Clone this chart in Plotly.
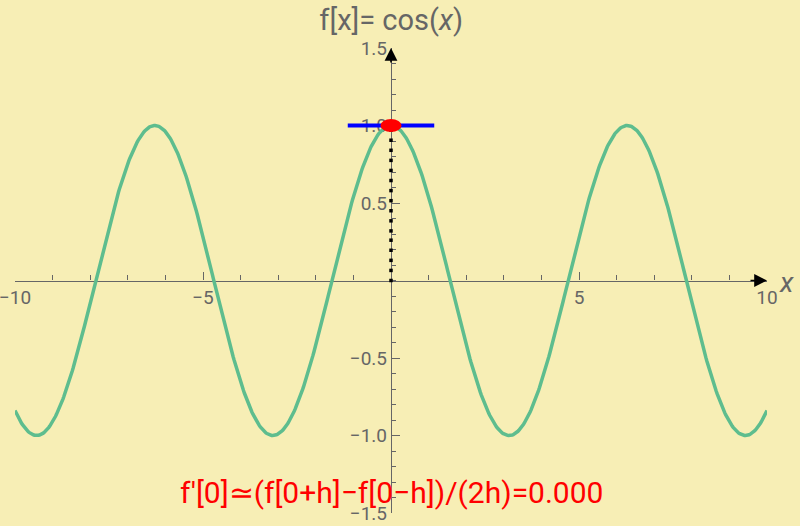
import numpy as np
import plotly.graph_objects as go

# -------------------------------
# Data
# -------------------------------
x_min, x_max = -10, 10
y_min, y_max = -1.5, 1.5
x_curve = np.linspace(x_min, x_max, 801)
y_curve = np.cos(x_curve)  # f[x] = cos(x)

x0 = 0.0
h = 1.15
tangent_x = [x0 - h, x0 + h]
tangent_y = [1.0, 1.0]
slope_text = "0.000"

# little black points along x = 0
dots_y = [0.0, 0.065, 0.13, 0.195, 0.26, 0.32, 0.385, 0.45, 0.515, 0.58,
          0.645, 0.71, 0.775, 0.84, 0.905, 0.97]

x_major = [-10, -5, 5, 10]
x_minor = list(range(-10, 11))
y_major = [-1.5, -1.0, -0.5, 0.5, 1.0, 1.5]
y_minor = [round(-1.5 + 0.1 * i, 1) for i in range(31)]

BG = "#F7EEB5"
GREY = "#666666"
FONT = "Roboto"

fig = go.Figure()

fig.add_trace(go.Scatter(x=x_curve, y=y_curve, mode="lines",
                         line=dict(color="#5EBD8E", width=3.5), hoverinfo="skip"))
fig.add_trace(go.Scatter(x=[x0] * len(dots_y), y=dots_y, mode="markers",
                         marker=dict(color="black", size=3.5, symbol="square"), hoverinfo="skip"))
fig.add_trace(go.Scatter(x=tangent_x, y=tangent_y, mode="lines",
                         line=dict(color="#0000FF", width=4), hoverinfo="skip"))

# red point at (x0, f(x0)), elliptical like the original
rx, ry = 0.28, 0.042
fig.add_shape(type="circle", xref="x", yref="y",
              x0=x0 - rx, x1=x0 + rx, y0=np.cos(x0) - ry, y1=np.cos(x0) + ry,
              fillcolor="#FF0000", line=dict(color="#FF0000", width=0))

# axis arrows
fig.add_annotation(x=x_max, y=0, ax=-18, ay=0, xref="x", yref="y",
                   showarrow=True, arrowhead=2, arrowsize=1.6, arrowwidth=1.6,
                   arrowcolor="black", text="")
fig.add_annotation(x=0, y=y_max, ax=0, ay=16, xref="x", yref="y",
                   showarrow=True, arrowhead=2, arrowsize=1.6, arrowwidth=1.6,
                   arrowcolor="black", text="")

# axis label
fig.add_annotation(x=x_max, y=0, xref="x", yref="y", xanchor="left", yanchor="middle",
                   xshift=10, yshift=-2, showarrow=False, text="<i>x</i>",
                   font=dict(family=FONT, size=28, color=GREY))

# formula
fig.add_annotation(x=0, y=-1.368, xref="x", yref="y", showarrow=False,
                   text="f'[0]≃(f[0+h]−f[0−h])/(2h)=" + slope_text,
                   font=dict(family=FONT, size=30, color="#FF0000"))

axis_common = dict(showgrid=False, zeroline=False, showline=True, automargin=False,
                   linecolor=GREY, linewidth=1.3, ticks="inside", tickcolor=GREY,
                   tickwidth=1.3, ticklen=8, layer="below traces",
                   ticklabeloverflow="allow",
                   tickfont=dict(family=FONT, size=19, color=GREY),
                   anchor="free", position=0.5)

fig.update_layout(
    width=800, height=526,
    paper_bgcolor=BG, plot_bgcolor=BG,
    showlegend=False,
    margin=dict(l=15, r=33, t=48, b=13, autoexpand=False),
    title=dict(text="f[x]= cos(<i>x</i>)", x=0.489, xanchor="center", y=0.962, yanchor="middle",
               font=dict(family=FONT, size=29, color=GREY)),
    xaxis=dict(range=[x_min, x_max], tickmode="array", tickvals=x_major,
               minor=dict(tickvals=x_minor, ticks="inside", ticklen=5,
                          tickcolor=GREY, tickwidth=1.2),
               **axis_common),
    yaxis=dict(range=[y_min, y_max], tickmode="array", tickvals=y_major,
               tickformat=".1f",
               minor=dict(tickvals=y_minor, ticks="inside", ticklen=4,
                          tickcolor=GREY, tickwidth=1.2),
               **axis_common),
)

# page body has a default 8px margin; drop it so the figure fills the window
fig.write_html("out.html", config={"displayModeBar": False},
               post_script="document.body.style.margin='0';")
